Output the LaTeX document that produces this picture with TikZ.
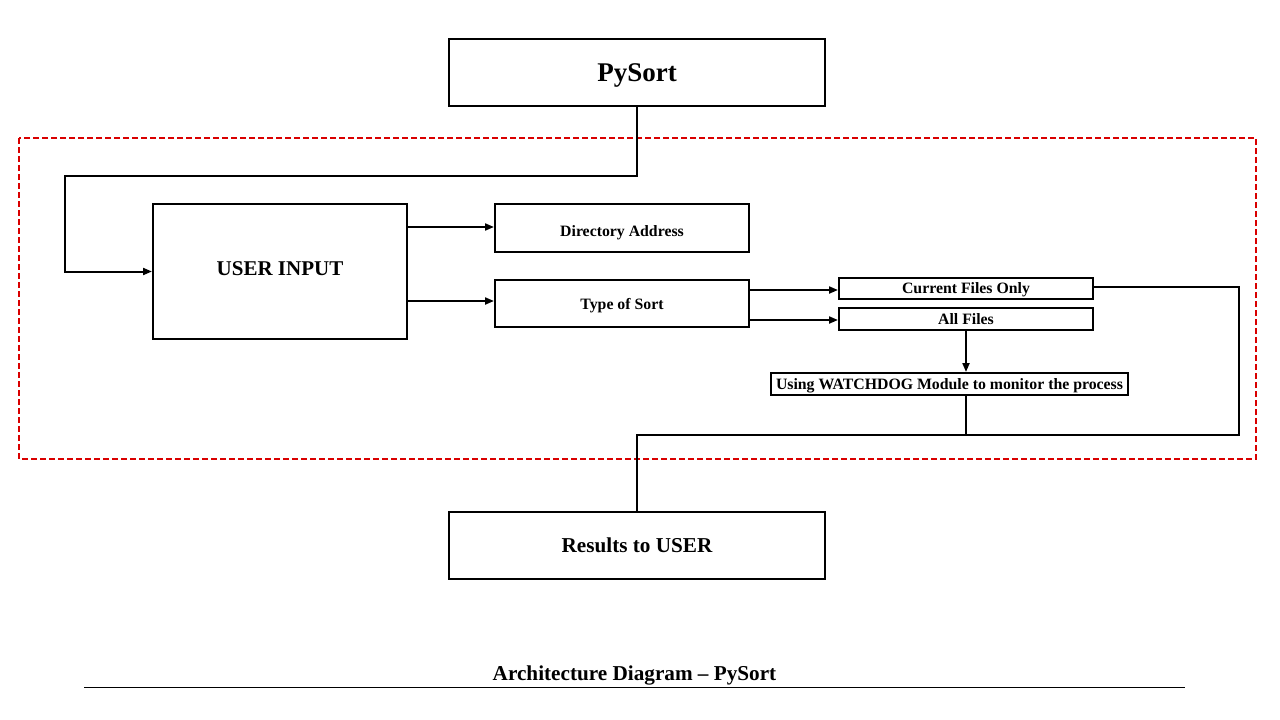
\documentclass[tikz,border=0pt]{standalone}
\usepackage{fontspec}
\setmainfont{Liberation Serif}
\usetikzlibrary{arrows.meta}
\begin{document}
\begin{tikzpicture}[x=1pt,y=-1pt,
  box/.style={draw=black,line width=2pt,fill=white,inner sep=0pt,text depth=0pt},
  small/.style={font=\bfseries\fontsize{15.8}{17}\selectfont,text height=10.5pt},
  conn/.style={draw=black,line width=2pt},
  arr/.style={conn,-{Triangle[length=9pt,width=7pt]}}]
\useasboundingbox (0,0) rectangle (1280,720);
\draw[red!85!black,line width=1.6pt,dash pattern=on 6pt off 3pt] (19,138) rectangle (1256,459);
\node[box,minimum width=376,minimum height=67,font=\bfseries\fontsize{27}{29}\selectfont,text height=17.9pt] (py) at (637,72.5) {PySort};
\node[box,minimum width=254,minimum height=135,font=\bfseries\fontsize{21}{23}\selectfont,text height=13.9pt,text depth=6pt] (ui) at (280,271.5) {USER INPUT};
\node[box,small,minimum width=254,minimum height=48,text height=16.5pt] (dir) at (622,228) {Directory Address};
\node[box,small,minimum width=254,minimum height=47,text height=12.5pt] (ts) at (622,303.5) {Type of Sort};
\node[box,small,minimum width=254,minimum height=21] (cf) at (966,288.5) {Current Files Only};
\node[box,small,minimum width=254,minimum height=22] (af) at (966,319) {All Files};
\node[box,small,minimum width=357,minimum height=22] (wd) at (949.5,384) {Using WATCHDOG Module to monitor the process};
\node[box,minimum width=376,minimum height=67,font=\bfseries\fontsize{21.2}{23}\selectfont,text height=14pt] (res) at (637,545.5) {Results to USER};
\node[text height=14pt,text depth=0pt,inner sep=0pt,font=\bfseries\fontsize{21.2}{23}\selectfont] (title) at (634.5,673) {Architecture Diagram – PySort};
\coordinate (ul) at (84,687);
\coordinate (ur) at (1185,687);
\draw[line width=1pt] (ul) -- (ur);
\coordinate (j) at (637,435);
\coordinate (lc) at (65,176);
\draw[arr] (py.south) -- (py.south |- lc) -- (lc) -- (lc |- ui.west) -- (ui.west);
\draw[arr] (ui.east |- 0,227) -- (dir.west |- 0,227);
\draw[arr] (ui.east |- 0,301) -- (ts.west |- 0,301);
\draw[arr] (ts.east |- 0,290) -- (cf.west |- 0,290);
\draw[arr] (ts.east |- 0,320) -- (af.west |- 0,320);
\draw[arr] (af.south) -- (wd.north -| af.south);
\draw[conn] (cf.east |- 0,287) -- (1239,287) -- (1239,435) -- (j) -- (res.north);
\draw[conn] (wd.south -| af.south) -- (j -| af.south);
\end{tikzpicture}
\end{document}
